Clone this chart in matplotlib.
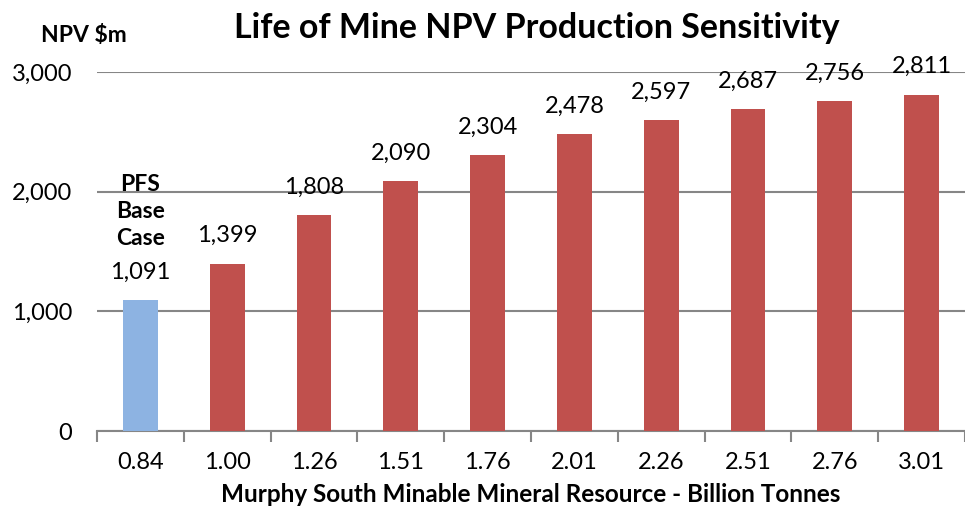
import matplotlib.pyplot as plt

# data
tonnes = ['0.84', '1.00', '1.26', '1.51', '1.76', '2.01', '2.26', '2.51', '2.76', '3.01']
npv = [1091, 1399, 1808, 2090, 2304, 2478, 2597, 2687, 2756, 2811]
base_case_idx = 0

plt.rcParams['font.family'] = ['Lato', 'DejaVu Sans']

fig = plt.figure(figsize=(9.65, 5.09), dpi=100)
ax = fig.add_axes([97 / 965, 1 - 431 / 509, 1 - 97 / 965, (431 - 72) / 509])

colors = ['#8DB3E2' if i == base_case_idx else '#C0504D' for i in range(len(npv))]
x = range(len(tonnes))
ax.bar(x, npv, width=0.40, color=colors, zorder=3)

for i, v in enumerate(npv):
    ax.annotate(f'{v:,}', (i, v), xytext=(0, 20), textcoords='offset points',
                ha='center', va='center', fontsize=17, annotation_clip=False)

ax.annotate('PFS\nBase\nCase', (base_case_idx, npv[base_case_idx]), xytext=(0, 64),
            textcoords='offset points', ha='center', va='center', fontsize=16.5,
            fontweight='bold', linespacing=1.35)

ax.set_xlim(-0.5, 9.48)
ax.set_ylim(0, 3000)
ax.set_yticks([0, 1000, 2000, 3000])
ax.set_yticklabels(['0', '1,000', '2,000', '3,000'])
ax.set_xticks(list(x))
ax.set_xticklabels(tonnes)
ax.set_xticks([i - 0.5 for i in range(len(tonnes) + 1)], minor=True)

ax.grid(axis='y', color='#868686', linewidth=1.5, zorder=0)
for s in ['top', 'right', 'left']:
    ax.spines[s].set_visible(False)
ax.spines['bottom'].set_color('#868686')
ax.spines['bottom'].set_linewidth(1.5)
ax.tick_params(axis='x', which='major', length=0, pad=15, labelsize=17)
ax.tick_params(axis='x', which='minor', length=8, width=1.5, color='#868686')
ax.tick_params(axis='y', length=0, pad=18, labelsize=17)

ax.set_xlabel('Murphy South Minable Mineral Resource - Billion Tonnes',
              fontsize=17.5, fontweight='bold', labelpad=7)
fig.text(84 / 965, 1 - 35 / 509, 'NPV $m', ha='center', va='center',
         fontsize=16.5, fontweight='bold')
fig.text(537 / 965, 1 - 28 / 509, 'Life of Mine NPV Production Sensitivity',
         ha='center', va='center', fontsize=24.5, fontweight='bold')

fig.savefig('out.png', dpi=100)
